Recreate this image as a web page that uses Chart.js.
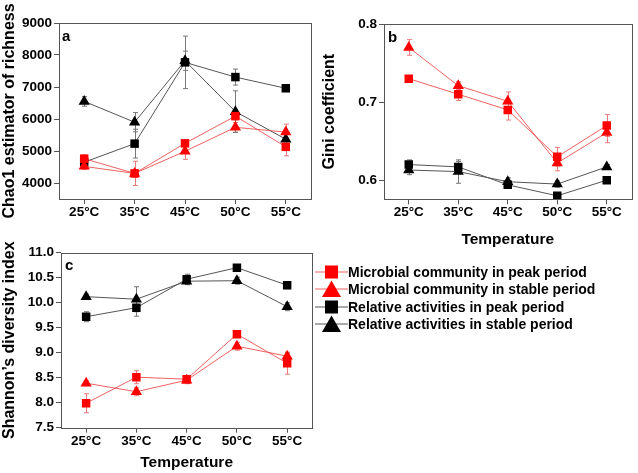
<!DOCTYPE html>
<html>
<head>
<meta charset="utf-8">
<script src="https://cdn.jsdelivr.net/npm/chart.js@4.4.0/dist/chart.umd.min.js"></script>
<style>
  body { margin: 0; background: #fff; }
  #wrap { position: relative; width: 638px; height: 473px; overflow: hidden; font-family: "Liberation Sans", Arial, sans-serif; }
  canvas { position: absolute; }
  #legend { position: absolute; left: 315px; top: 263px; }
  .row { height: 17.5px; display: flex; align-items: center; font-weight: bold; font-size: 14px; color: #000; white-space: nowrap; }
  .row svg { width: 33px; height: 18px; flex: none; }
</style>
</head>
<body>
<div id="wrap">
  <canvas id="chartA" width="320" height="230" style="left:0;top:0"></canvas>
  <canvas id="chartB" width="318" height="250" style="left:320px;top:0"></canvas>
  <canvas id="chartC" width="320" height="243" style="left:0;top:230px"></canvas>
  <div id="legend"></div>
</div>
<script>
const temps = ["25°C", "35°C", "45°C", "50°C", "55°C"];
const seriesNames = [
  "Microbial community in peak period",
  "Microbial community in stable period",
  "Relative activities in peak period",
  "Relative activities in stable period"
];

// a: Chao1 richness
const chaoMicPeak = [4760, 4300, 5240, 6090, 5130];
const chaoMicStable = [4520, 4300, 4990, 5740, 5590];
const chaoRelPeak = [4650, 5230, 7770, 7310, 6960];
const chaoRelStable = [6550, 5900, 7820, 6230, 5370];
const chaoErrMicPeak = [120, 380, 80, 120, 280];
const chaoErrMicStable = [100, 120, 250, 150, 250];
const chaoErrRelPeak = [150, 450, 820, 250, 100];
const chaoErrRelStable = [150, 300, 300, 650, 200];

// b: Gini coefficient
const giniMicPeak = [0.730, 0.710, 0.690, 0.630, 0.670];
const giniMicStable = [0.770, 0.721, 0.701, 0.622, 0.661];
const giniRelPeak = [0.620, 0.617, 0.594, 0.580, 0.600];
const giniRelStable = [0.613, 0.611, 0.598, 0.595, 0.617];
const giniErrMicPeak = [0.003, 0.008, 0.013, 0.012, 0.014];
const giniErrMicStable = [0.010, 0.005, 0.012, 0.010, 0.013];
const giniErrRelPeak = [0.006, 0.007, 0.004, 0.003, 0.004];
const giniErrRelStable = [0.006, 0.015, 0.005, 0.004, 0.003];

// c: Shannon diversity
const shanMicPeak = [7.99, 8.51, 8.47, 9.37, 8.79];
const shanMicStable = [8.39, 8.22, 8.45, 9.13, 8.93];
const shanRelPeak = [9.72, 9.90, 10.47, 10.70, 10.35];
const shanRelStable = [10.12, 10.07, 10.43, 10.44, 9.92];
const shanErrMicPeak = [0.19, 0.13, 0.05, 0.05, 0.22];
const shanErrMicStable = [0.05, 0.08, 0.07, 0.08, 0.06];
const shanErrRelPeak = [0.10, 0.17, 0.10, 0.03, 0.07];
const shanErrRelStable = [0.05, 0.25, 0.07, 0.07, 0.08];

const red = "#ff0000";
const redLine = "rgba(235,70,70,0.85)";
const redErr = "rgba(230,110,110,0.9)";
const black = "#000000";
const greyLine = "#555555";
const greyErr = "#777777";
const styles = [
  {point: "rect", fill: red, line: redLine, err: redErr, r: 6},
  {point: "triangle", fill: red, line: redLine, err: redErr, r: 6.5},
  {point: "rect", fill: black, line: greyLine, err: greyErr, r: 6},
  {point: "triangle", fill: black, line: greyLine, err: greyErr, r: 6.5}
];

function makeDatasets(values, errors) {
  return values.map((v, i) => ({
    label: seriesNames[i],
    data: v,
    errors: errors[i],
    errColor: styles[i].err,
    borderColor: styles[i].line,
    borderWidth: 1,
    pointStyle: styles[i].point,
    pointRadius: styles[i].r,
    pointBackgroundColor: styles[i].fill,
    pointBorderColor: styles[i].fill,
    pointBorderWidth: 0,
    tension: 0
  }));
}

const errorBars = {
  id: "errorBars",
  beforeDatasetsDraw(chart) {
    const ctx = chart.ctx;
    const y = chart.scales.y;
    chart.data.datasets.forEach((ds, i) => {
      const meta = chart.getDatasetMeta(i);
      ctx.save();
      ctx.strokeStyle = ds.errColor;
      ctx.lineWidth = 1;
      meta.data.forEach((pt, j) => {
        const top = y.getPixelForValue(ds.data[j] + ds.errors[j]);
        const bot = y.getPixelForValue(ds.data[j] - ds.errors[j]);
        const px = Math.round(pt.x) + 0.5;
        ctx.beginPath();
        ctx.moveTo(px, top); ctx.lineTo(px, bot);
        ctx.moveTo(px - 2.5, top); ctx.lineTo(px + 2.5, top);
        ctx.moveTo(px - 2.5, bot); ctx.lineTo(px + 2.5, bot);
        ctx.stroke();
      });
      ctx.restore();
    });
  }
};

const panelBox = {
  id: "panelBox",
  afterDraw(chart, args, opts) {
    const {ctx, chartArea: a} = chart;
    ctx.save();
    ctx.strokeStyle = "#555";
    ctx.lineWidth = 1;
    ctx.strokeRect(Math.round(a.left) + 0.5, Math.round(a.top) + 0.5,
      Math.round(a.right - a.left), Math.round(a.bottom - a.top));
    ctx.fillStyle = "#000";
    ctx.font = "bold 15px 'Liberation Sans', Arial, sans-serif";
    ctx.textBaseline = "top";
    ctx.fillText(opts.letter, a.left + opts.dx, a.top + 6);
    ctx.restore();
  }
};

const tickFont = {family: "'Liberation Sans', Arial, sans-serif", size: 13.5, weight: "bold"};
const titleFont = {family: "'Liberation Sans', Arial, sans-serif", size: 16, weight: "bold"};

function makePanel(id, p) {
  new Chart(document.getElementById(id), {
    type: "line",
    data: {labels: temps, datasets: makeDatasets(p.values, p.errors)},
    plugins: [errorBars, panelBox],
    options: {
      responsive: false,
      animation: false,
      events: [],
      layout: {padding: {left: 0, top: p.top, right: p.right, bottom: 0}},
      plugins: {legend: {display: false}, tooltip: {enabled: false},
        panelBox: {letter: p.letter, dx: p.dx}},
      scales: {
        x: {
          type: "category",
          offset: true,
          grid: {offset: false, drawOnChartArea: false, tickLength: 5, color: "#555"},
          border: {display: false},
          ticks: {font: tickFont, color: "#000", padding: 0, maxRotation: 0, autoSkip: false},
          title: {display: !!p.xTitle, text: p.xTitle, font: {...titleFont, size: 15.5}, color: "#000",
            padding: {top: 0, bottom: 1}},
          afterFit: s => { s.height = p.xH; }
        },
        y: {
          min: p.min, max: p.max,
          grid: {drawOnChartArea: false, tickLength: 5, color: "#555"},
          border: {display: false},
          ticks: {font: tickFont, color: "#000", padding: 2, stepSize: p.step,
            callback: v => v.toFixed(p.dec)},
          afterBuildTicks: s => { s.ticks = s.ticks.filter(t => p.keep(t.value)); },
          title: {display: true, text: p.yTitle, font: titleFont, color: "#000",
            padding: {top: 0, bottom: 0}},
          afterFit: s => { s.width = p.yW; }
        }
      }
    }
  });
}

makePanel("chartA", {
  values: [chaoMicPeak, chaoMicStable, chaoRelPeak, chaoRelStable],
  errors: [chaoErrMicPeak, chaoErrMicStable, chaoErrRelPeak, chaoErrRelStable],
  min: 3500, max: 9000, step: 500, dec: 0,
  keep: v => Math.abs(v % 1000) < 1e-6,
  yTitle: "Chao1 estimator of richness", xTitle: "",
  yW: 59, xH: 31, top: 23, right: 9, letter: "a", dx: 3
});

makePanel("chartB", {
  values: [giniMicPeak, giniMicStable, giniRelPeak, giniRelStable],
  errors: [giniErrMicPeak, giniErrMicStable, giniErrRelPeak, giniErrRelStable],
  min: 0.5755, max: 0.8, step: 0.1, dec: 1,
  keep: v => [0.6, 0.7, 0.8].some(k => Math.abs(v - k) < 1e-6),
  yTitle: "Gini coefficient", xTitle: "Temperature",
  yW: 64, xH: 50.7, top: 24, right: 4, letter: "b", dx: 4
});

makePanel("chartC", {
  values: [shanMicPeak, shanMicStable, shanRelPeak, shanRelStable],
  errors: [shanErrMicPeak, shanErrMicStable, shanErrRelPeak, shanErrRelStable],
  min: 7.5, max: 11, step: 0.5, dec: 1,
  keep: v => true,
  yTitle: "Shannon’s diversity index", xTitle: "Temperature",
  yW: 61, xH: 45.3, top: 22.7, right: 7.7, letter: "c", dx: 4
});

// legend
const legend = document.getElementById("legend");
seriesNames.forEach((name, i) => {
  const s = styles[i];
  const marker = s.point === "rect"
    ? '<rect x="10" y="2.5" width="13" height="13" fill="' + s.fill + '"/>'
    : '<polygon points="16.5,0.5 26,17 7,17" fill="' + s.fill + '"/>';
  const row = document.createElement("div");
  row.className = "row";
  row.innerHTML = '<svg viewBox="0 0 33 18"><line x1="0" y1="9" x2="33" y2="9" stroke="' + s.line +
    '" stroke-width="1"/>' + marker + '</svg><span>' + name + '</span>';
  legend.appendChild(row);
});
</script>
</body>
</html>
